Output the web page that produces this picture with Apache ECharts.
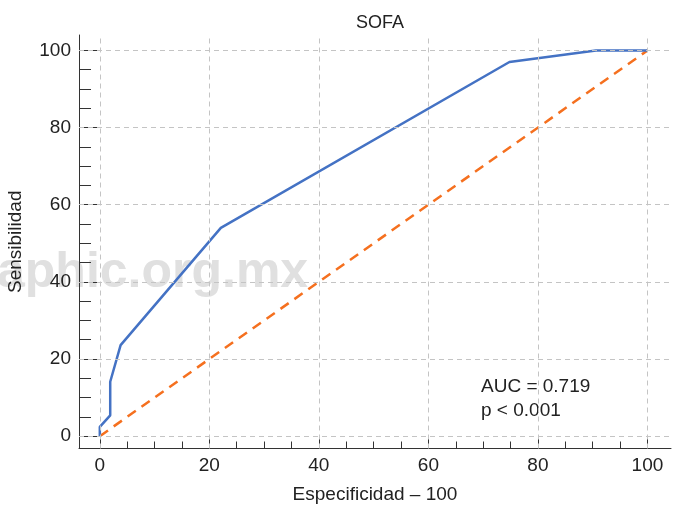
<!DOCTYPE html>
<html>
<head>
<meta charset="utf-8">
<script src="https://cdn.jsdelivr.net/npm/echarts@6/dist/echarts.min.js"></script>
<style>
  html, body { margin: 0; padding: 0; background: #fff; }
  #chart { width: 674px; height: 505px; }
</style>
</head>
<body>
<div id="chart"></div>
<script>
// curva ROC de SOFA (especificidad-100, sensibilidad)
var rocX = [0, 0, 1.9, 1.9, 3.8, 22.1, 74.8, 90.6, 100];
var rocY = [0, 2.4, 5.4, 14.1, 23.6, 54.0, 97.0, 100, 100];
// linea de referencia
var refX = [0, 100];
var refY = [0, 100];
// marcas de los ejes
var majorTicks = [0, 20, 40, 60, 80, 100];
var minorTicks = [0, 5, 10, 15, 20, 25, 30, 35, 40, 45, 50, 55, 60, 65, 70, 75, 80, 85, 90, 95, 100];
var aucText = ['AUC = 0.719', 'p < 0.001'];

var font = 'Liberation Sans';
var chart = echarts.init(document.getElementById('chart'));

function pairs(xs, ys) {
  return xs.map(function (x, i) { return [x, ys[i]]; });
}

var gridMarks = majorTicks.map(function (v) { return { xAxis: v }; })
  .concat(majorTicks.map(function (v) { return { yAxis: v }; }));

function xAxisBase(extra) {
  return Object.assign({
    type: 'value',
    position: 'bottom',
    min: -3.8,
    max: 104.3,
    splitLine: { show: false }
  }, extra);
}
function yAxisBase(extra) {
  return Object.assign({
    type: 'value',
    position: 'left',
    min: -3.2,
    max: 104,
    splitLine: { show: false }
  }, extra);
}

var option = {
  animation: false,
  backgroundColor: '#fff',
  title: {
    text: 'SOFA',
    left: 375,
    textAlign: 'center',
    top: 9,
    textStyle: { fontFamily: font, fontSize: 18, fontWeight: 'normal', color: '#222' }
  },
  graphic: [{
    type: 'text',
    left: -3,
    top: 248,
    z: -10,
    style: { text: 'aphic.org.mx', font: 'bold 50px ' + font, fill: '#e0e0e0' }
  }, {
    type: 'text',
    left: 481,
    top: 375,
    style: { text: aucText.join('\n'), font: '19px ' + font, fill: '#222', lineHeight: 24 }
  }],
  grid: { left: 79, right: 3, top: 35, bottom: 56.5, outerBoundsMode: 'none', containLabel: false },
  xAxis: [
    xAxisBase({
      name: 'Especificidad \u2013 100',
      nameLocation: 'middle',
      nameGap: 37,
      nameTextStyle: { fontFamily: font, fontSize: 19, color: '#222' },
      axisLine: { show: true, onZero: false, lineStyle: { color: '#333', width: 1 } },
      axisTick: { show: true, inside: true, length: 7, customValues: minorTicks, lineStyle: { color: '#333' } },
      axisLabel: { show: true, customValues: majorTicks, margin: 8, fontFamily: font, fontSize: 19, color: '#222' }
    }),
    xAxisBase({
      axisLine: { show: false, onZero: false },
      axisTick: { show: true, inside: true, length: 13, customValues: majorTicks, lineStyle: { color: '#333' } },
      axisLabel: { show: false }
    })
  ],
  yAxis: [
    yAxisBase({
      name: 'Sensibilidad',
      nameLocation: 'middle',
      nameGap: 54,
      nameTextStyle: { fontFamily: font, fontSize: 19, color: '#222' },
      axisLine: { show: true, onZero: false, lineStyle: { color: '#333', width: 1 } },
      axisTick: { show: true, inside: true, length: 12, customValues: minorTicks, lineStyle: { color: '#333' } },
      axisLabel: { show: true, customValues: majorTicks, margin: 8, fontFamily: font, fontSize: 19, color: '#222' }
    }),
    yAxisBase({
      axisLine: { show: false, onZero: false },
      axisTick: { show: true, inside: true, length: 20, customValues: majorTicks, lineStyle: { color: '#333' } },
      axisLabel: { show: false }
    })
  ],
  series: [
    {
      // rejilla discontinua
      type: 'line',
      data: [],
      z: 1,
      silent: true,
      markLine: {
        silent: true,
        symbol: 'none',
        label: { show: false },
        lineStyle: { color: '#c4c4c4', type: [5, 4], width: 1 },
        data: gridMarks
      }
    },
    {
      name: 'Referencia',
      type: 'line',
      data: pairs(refX, refY),
      symbol: 'none',
      z: 3,
      lineStyle: { color: '#f5701f', width: 2.5, type: [10, 7] }
    },
    {
      name: 'SOFA',
      type: 'line',
      data: pairs(rocX, rocY),
      symbol: 'none',
      z: 4,
      lineStyle: { color: '#4472c4', width: 2.5 }
    }
  ]
};
chart.setOption(option);
</script>
</body>
</html>
